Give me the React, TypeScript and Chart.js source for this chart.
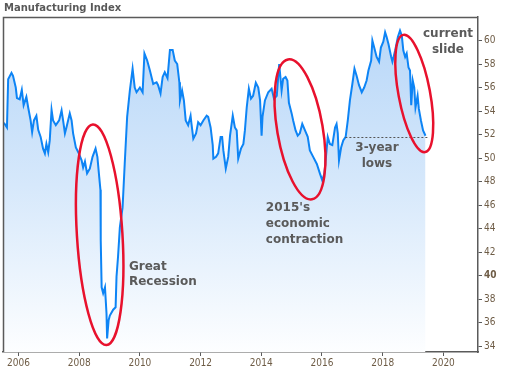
import React, { useEffect, useRef } from 'react';
import { Chart, registerables } from 'chart.js';

Chart.register(...registerables);

const years = [
  2005.52, 2005.62, 2005.66, 2005.77, 2005.82, 2005.91, 2005.95, 2006.04, 2006.11, 2006.17,
  2006.26, 2006.32, 2006.40, 2006.45, 2006.51, 2006.59, 2006.65, 2006.73, 2006.81, 2006.87,
  2006.92, 2006.98, 2007.03, 2007.09, 2007.14, 2007.23, 2007.34, 2007.42, 2007.47, 2007.53,
  2007.58, 2007.69, 2007.75, 2007.80, 2007.89, 2007.97, 2008.08, 2008.13, 2008.19, 2008.26,
  2008.35, 2008.44, 2008.54, 2008.60, 2008.66, 2008.70, 2008.71, 2008.74, 2008.79, 2008.85,
  2008.90, 2008.92, 2008.97, 2009.01, 2009.12, 2009.20, 2009.23, 2009.28, 2009.34, 2009.43,
  2009.50, 2009.58, 2009.67, 2009.76, 2009.83, 2009.89, 2010.00, 2010.09, 2010.15, 2010.24,
  2010.33, 2010.44, 2010.55, 2010.60, 2010.68, 2010.75, 2010.82, 2010.91, 2010.99, 2011.08,
  2011.15, 2011.23, 2011.30, 2011.32, 2011.39, 2011.45, 2011.51, 2011.59, 2011.67, 2011.70,
  2011.76, 2011.85, 2011.92, 2012.00, 2012.09, 2012.20, 2012.25, 2012.33, 2012.40, 2012.42,
  2012.51, 2012.58, 2012.66, 2012.71, 2012.75, 2012.83, 2012.91, 2012.97, 2013.06, 2013.13,
  2013.19, 2013.24, 2013.33, 2013.41, 2013.46, 2013.52, 2013.59, 2013.66, 2013.73, 2013.82,
  2013.90, 2013.96, 2014.01, 2014.04, 2014.12, 2014.23, 2014.34, 2014.42, 2014.51, 2014.59,
  2014.67, 2014.72, 2014.80, 2014.86, 2014.91, 2015.00, 2015.05, 2015.13, 2015.20, 2015.27,
  2015.35, 2015.44, 2015.53, 2015.60, 2015.71, 2015.83, 2015.93, 2016.01, 2016.08, 2016.15,
  2016.19, 2016.26, 2016.34, 2016.43, 2016.48, 2016.52, 2016.56, 2016.63, 2016.70, 2016.78,
  2016.85, 2016.92, 2017.00, 2017.07, 2017.14, 2017.22, 2017.31, 2017.39, 2017.47, 2017.53,
  2017.62, 2017.66, 2017.72, 2017.80, 2017.88, 2017.94, 2018.02, 2018.08, 2018.13, 2018.19,
  2018.28, 2018.32, 2018.41, 2018.50, 2018.57, 2018.63, 2018.68, 2018.74, 2018.79, 2018.85,
  2018.90, 2018.94, 2018.99, 2019.04, 2019.08, 2019.15, 2019.19, 2019.26, 2019.33, 2019.41,
];

const indexValues = [
  53.0, 52.6, 56.7, 57.25, 57.0, 56.0, 55.1, 55.0, 55.8, 54.5,
  55.2, 54.3, 53.2, 52.2, 53.2, 53.6, 52.4, 51.8, 50.8, 50.4,
  51.2, 50.5, 51.5, 54.1, 53.2, 52.8, 53.2, 54.05, 53.2, 52.1,
  52.6, 53.8, 53.2, 52.1, 50.9, 50.5, 49.8, 49.2, 49.7, 48.7,
  49.1, 50.1, 50.8, 50.1, 48.4, 47.3, 43.0, 39.0, 38.5, 39.0,
  36.8, 34.65, 36.2, 36.6, 37.1, 37.3, 39.9, 41.6, 44.1, 45.8,
  49.5, 53.5, 55.75, 57.6, 56.0, 55.6, 56.0, 55.6, 58.9, 58.3,
  57.45, 56.3, 56.45, 56.2, 55.5, 56.9, 57.3, 56.8, 59.2, 59.2,
  58.3, 58.0, 56.45, 54.9, 55.75, 54.9, 53.2, 52.8, 53.6, 52.9,
  51.65, 52.1, 53.05, 52.8, 53.2, 53.6, 53.5, 52.6, 51.1, 49.95,
  50.1, 50.4, 51.8, 51.8, 50.65, 49.1, 50.1, 51.9, 53.6, 52.6,
  52.35, 49.95, 50.8, 51.2, 52.35, 54.3, 55.9, 55.05, 55.3, 56.4,
  56.0, 54.9, 51.9, 53.5, 54.9, 55.6, 55.9, 55.05, 55.3, 58.0,
  55.75, 56.75, 56.9, 56.6, 54.7, 53.8, 53.2, 52.35, 51.9, 52.1,
  52.9, 52.35, 51.8, 50.65, 50.1, 49.5, 48.7, 48.1, 48.7, 50.65,
  51.8, 51.2, 51.1, 52.6, 52.9, 52.1, 49.8, 50.9, 51.5, 51.8,
  53.2, 54.9, 56.3, 57.6, 57.0, 56.2, 55.6, 56.0, 56.6, 57.45,
  58.3, 60.0, 59.4, 58.6, 58.2, 59.4, 59.9, 60.7, 60.3, 59.7,
  58.6, 58.2, 59.15, 60.3, 60.85, 60.4, 59.15, 58.6, 58.9, 57.7,
  57.45, 54.5, 56.6, 56.0, 54.3, 55.3, 54.2, 53.2, 52.35, 51.9,
];

const xTicks = [2006, 2008, 2010, 2012, 2014, 2016, 2018, 2020];
const yTicks = [34, 36, 38, 40, 42, 44, 46, 48, 50, 52, 54, 56, 58, 60];
const xRange = [2005.49, 2021.14];
const yRange = [33.5, 62];

// 3-year lows reference line
const lowsLevel = 51.76;
const lowsSpan = [2016.77, 2019.5];

// highlight ellipses: major axis end points (year, value) and half-width in years
const ellipseTopYears = [2008.45, 2014.88, 2018.68];
const ellipseTopValues = [52.86, 58.39, 60.48];
const ellipseBottomYears = [2008.9, 2015.67, 2019.4];
const ellipseBottomValues = [34.09, 46.49, 50.51];
const ellipseHalfWidthYears = [0.75, 0.75, 0.52];

// annotation labels
const noteLines = [['Great', 'Recession'], ["2015's", 'economic', 'contraction'], ['3-year', 'lows'], ['current', 'slide']];
const noteYears = [2009.64, 2014.15, 2017.81, 2020.15];
const noteValues = [40.74, 45.73, 50.88, 60.57];
const noteAlign = ['left', 'left', 'center', 'center'];
const noteLineHeights = [15, 16, 16, 16];

const titleText = 'Manufacturing Index';

const axisColor = '#5a5a5a';
const tickColor = '#6e5c46';
const tickFamily = '"DejaVu Sans Condensed", "DejaVu Sans", sans-serif';

const overlayPlugin = {
  id: 'overlay',
  afterDatasetsDraw(chart: any) {
    const { ctx, chartArea: a, scales } = chart;
    const x = scales.x;
    const y = scales.y;
    ctx.save();
    // left & top frame
    ctx.strokeStyle = axisColor;
    ctx.lineWidth = 1.5;
    ctx.beginPath();
    ctx.moveTo(a.left + 0.5, a.bottom);
    ctx.lineTo(a.left + 0.5, a.top + 0.5);
    ctx.lineTo(a.right, a.top + 0.5);
    ctx.stroke();

    // dashed 3-year lows line
    ctx.strokeStyle = '#555555';
    ctx.lineWidth = 1;
    ctx.setLineDash([2, 2]);
    ctx.beginPath();
    const ly = Math.round(y.getPixelForValue(lowsLevel)) + 0.5;
    ctx.moveTo(x.getPixelForValue(lowsSpan[0]), ly);
    ctx.lineTo(x.getPixelForValue(lowsSpan[1]), ly);
    ctx.stroke();
    ctx.setLineDash([]);

    // ellipses
    const pxPerYear = x.getPixelForValue(2007) - x.getPixelForValue(2006);
    ctx.strokeStyle = '#e8112d';
    ctx.lineWidth = 2.5;
    for (let i = 0; i < ellipseTopYears.length; i++) {
      const x1 = x.getPixelForValue(ellipseTopYears[i]);
      const y1 = y.getPixelForValue(ellipseTopValues[i]);
      const x2 = x.getPixelForValue(ellipseBottomYears[i]);
      const y2 = y.getPixelForValue(ellipseBottomValues[i]);
      const cx = (x1 + x2) / 2;
      const cy = (y1 + y2) / 2;
      const half = Math.hypot(x2 - x1, y2 - y1) / 2;
      const ang = Math.atan2(y2 - y1, x2 - x1);
      ctx.beginPath();
      ctx.ellipse(cx, cy, half, ellipseHalfWidthYears[i] * pxPerYear, ang, 0, Math.PI * 2);
      ctx.stroke();
    }

    // notes
    ctx.fillStyle = '#5a5a5a';
    ctx.font = 'bold 12px "DejaVu Sans", sans-serif';
    ctx.textBaseline = 'middle';
    for (let i = 0; i < noteLines.length; i++) {
      const nx = x.getPixelForValue(noteYears[i]);
      const ny = y.getPixelForValue(noteValues[i]);
      ctx.textAlign = noteAlign[i] as CanvasTextAlign;
      noteLines[i].forEach((line, k) => {
        ctx.fillText(line, nx, ny + k * noteLineHeights[i]);
      });
    }

    // title
    ctx.font = 'bold 10px "DejaVu Sans", sans-serif';
    ctx.textAlign = 'left';
    ctx.fillStyle = '#595959';
    ctx.fillText(titleText, 4, 8);
    ctx.restore();
  },
};

export default function App() {
  const canvasRef = useRef<HTMLCanvasElement | null>(null);

  useEffect(() => {
    document.body.style.margin = '0';
    const canvas = canvasRef.current;
    if (!canvas) return;
    const points = years.map((yr, i) => ({ x: yr, y: indexValues[i] }));
    const chart = new Chart(canvas, {
      type: 'line',
      data: {
        datasets: [
          {
            data: points,
            borderColor: '#0d84f5',
            borderWidth: 2,
            pointRadius: 0,
            tension: 0,
            fill: 'start',
            backgroundColor: (c: any) => {
              const area = c.chart.chartArea;
              if (!area) return 'rgba(190,218,248,0.6)';
              const g = c.chart.ctx.createLinearGradient(0, area.top, 0, area.bottom);
              g.addColorStop(0, '#b6d6f8');
              g.addColorStop(0.5, '#d6e8fb');
              g.addColorStop(1, '#fdfeff');
              return g;
            },
          },
        ],
      },
      options: {
        animation: false,
        responsive: false,
        devicePixelRatio: 1,
        layout: { padding: { left: 3, top: 17, right: 0, bottom: 0 } },
        plugins: { legend: { display: false }, tooltip: { enabled: false }, title: { display: false } },
        scales: {
          x: {
            type: 'linear',
            min: xRange[0],
            max: xRange[1],
            afterBuildTicks: (s: any) => {
              s.ticks = xTicks.map((v) => ({ value: v }));
            },
            afterFit: (s: any) => {
              s.height = 18;
            },
            grid: { display: true, drawOnChartArea: false, drawTicks: true, tickLength: 4, color: axisColor },
            border: { display: true, color: axisColor, width: 1.5 },
            ticks: {
              color: tickColor,
              padding: 1,
              maxRotation: 0,
              autoSkip: false,
              font: { family: tickFamily, size: 10 },
              callback: (v: any) => String(v),
            },
          },
          y: {
            type: 'linear',
            position: 'right',
            min: yRange[0],
            max: yRange[1],
            afterBuildTicks: (s: any) => {
              s.ticks = yTicks.map((v) => ({ value: v }));
            },
            afterFit: (s: any) => {
              s.width = 28;
            },
            grid: { display: true, drawOnChartArea: false, drawTicks: true, tickLength: 4, color: axisColor },
            border: { display: true, color: axisColor, width: 1.5 },
            ticks: {
              color: tickColor,
              padding: 2,
              autoSkip: false,
              font: (c: any) => ({
                family: tickFamily,
                size: 10,
                weight: c.tick && c.tick.value === 40 ? 'bold' : 'normal',
              }),
              callback: (v: any) => String(v),
            },
          },
        },
      },
      plugins: [overlayPlugin],
    });
    return () => chart.destroy();
  }, []);

  return (
    <div style={{ width: 506, height: 370 }}>
      <canvas ref={canvasRef} width={506} height={370} style={{ display: 'block' }} />
    </div>
  );
}
